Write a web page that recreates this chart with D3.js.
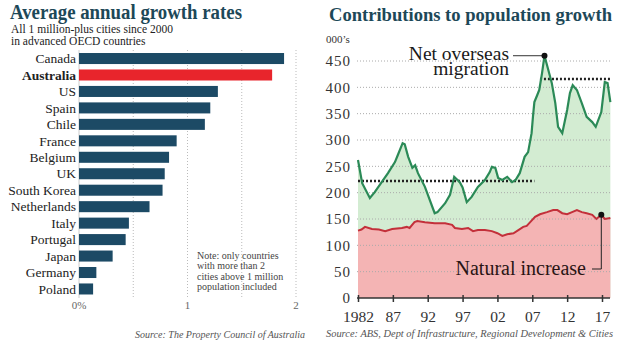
<!DOCTYPE html>
<html>
<head>
<meta charset="utf-8">
<script src="https://cdn.jsdelivr.net/npm/d3@7"></script>
<style>
  html, body { margin: 0; padding: 0; background: #fff; }
  svg { display: block; font-family: 'Liberation Serif', 'DejaVu Serif', serif; }
</style>
</head>
<body>
<svg id="chart"></svg>
<script>
// left chart: average annual growth rates (%)
const countries = ['Canada', 'Australia', 'US', 'Spain', 'Chile', 'France', 'Belgium', 'UK',
  'South Korea', 'Netherlands', 'Italy', 'Portugal', 'Japan', 'Germany', 'Poland'];
const growthRates = [1.89, 1.78, 1.28, 1.21, 1.16, 0.90, 0.83, 0.79, 0.77, 0.65, 0.46, 0.43, 0.31, 0.16, 0.13];
const growthTicks = [0, 1, 2];
const growthGrid = [0.5, 1, 1.5, 2];

// right chart: contributions to population growth (000's)
const nomYears = [1982.0, 1982.6, 1983.7, 1984.4, 1985.4, 1986.3, 1987.3, 1987.7, 1988.4, 1988.7,
  1989.2, 1989.8, 1990.2, 1990.6, 1991.6, 1993.0, 1993.4, 1994.5, 1995.2, 1995.8,
  1996.6, 1997.0, 1997.6, 1998.3, 1999.2, 2000.2, 2000.9, 2001.2, 2001.7, 2002.1,
  2002.7, 2003.4, 2004.1, 2004.6, 2005.2, 2005.9, 2006.4, 2006.9, 2007.1, 2007.3,
  2007.7, 2008.0, 2008.4, 2008.75, 2009.3, 2009.8, 2010.3, 2010.7, 2011.3, 2012.0,
  2012.4, 2012.8, 2013.4, 2014.1, 2014.8, 2015.6, 2016.1, 2016.9, 2017.4, 2017.8, 2018.2];
const nomValues = [262, 218, 190, 201, 220, 237, 258, 271, 294, 292,
  268, 247, 252, 237, 211, 161, 163, 180, 196, 230,
  220, 210, 182, 192, 211, 224, 239, 249, 247, 228,
  224, 230, 220, 224, 237, 268, 277, 313, 345, 372,
  385, 395, 427, 460, 433, 408, 370, 325, 313, 357,
  389, 404, 395, 370, 344, 334, 325, 353, 410, 408, 372];

const natYears = [1982.0, 1982.5, 1983.0, 1984.0, 1985.0, 1985.9, 1986.9, 1988.3, 1989.0, 1989.4,
  1990.1, 1990.5, 1991.6, 1993.0, 1994.5, 1995.5, 1995.9, 1996.9, 1997.8, 1998.5,
  1999.2, 2000.2, 2001.2, 2002.0, 2002.7, 2003.4, 2004.3, 2005.0, 2005.7, 2006.2,
  2006.7, 2007.4, 2008.1, 2009.1, 2010.0, 2010.6, 2011.3, 2012.0, 2012.7, 2013.4,
  2014.1, 2014.8, 2015.6, 2016.2, 2016.9, 2017.4, 2018.2];
const natValues = [128, 130, 135, 131, 130, 127, 131, 133, 135, 133,
  144, 146, 144, 142, 142, 139, 133, 131, 133, 127,
  129, 129, 127, 123, 118, 121, 123, 129, 135, 137,
  144, 154, 159, 163, 167, 167, 161, 159, 163, 167,
  163, 161, 158, 150, 158, 150, 152];

const yearTicks = [1982, 1987, 1992, 1997, 2002, 2007, 2012, 2017];
const valueTicks = [0, 50, 100, 150, 200, 250, 300, 350, 400, 450];
// dotted average lines: [start year, end year, level]
const oldAverage = [1982, 2007.3, 222];
const newAverage = [2008.1, 2018.2, 416];

const width = 624;
const height = 351;
const navy = '#1c4a65';
const titleColor = '#1d4858';

const svg = d3.select('#chart')
  .attr('width', width)
  .attr('height', height);

/* ---------- left: bar chart ---------- */
const left = svg.append('g');

left.append('text')
  .attr('x', 10)
  .attr('y', 19)
  .attr('font-size', 20)
  .attr('font-weight', 'bold')
  .attr('fill', titleColor)
  .attr('textLength', 232)
  .attr('lengthAdjust', 'spacingAndGlyphs')
  .text('Average annual growth rates');

left.selectAll('.sub')
  .data(['All 1 million-plus cities since 2000', 'in advanced OECD countries'])
  .enter()
  .append('text')
  .attr('class', 'sub')
  .attr('x', 11)
  .attr('y', (d, i) => 33 + i * 12)
  .attr('font-size', 11.5)
  .attr('fill', '#222')
  .text(d => d);

const x = d3.scaleLinear()
  .domain([0, 2])
  .range([79, 296]);

const y = d3.scaleBand()
  .domain(countries)
  .range([50.3, 297.2])
  .paddingInner(0.33)
  .paddingOuter(0.165);

left.selectAll('.grid')
  .data(growthGrid)
  .enter()
  .append('line')
  .attr('class', 'grid')
  .attr('x1', d => x(d))
  .attr('x2', d => x(d))
  .attr('y1', 50)
  .attr('y2', 298)
  .attr('stroke', '#bbb')
  .attr('stroke-width', 1)
  .attr('stroke-dasharray', '1,2');

left.append('line')
  .attr('x1', x(0))
  .attr('x2', x(0))
  .attr('y1', 50)
  .attr('y2', 298)
  .attr('stroke', '#ccc');

left.selectAll('.bar')
  .data(countries)
  .enter()
  .append('rect')
  .attr('class', 'bar')
  .attr('x', x(0))
  .attr('y', d => y(d))
  .attr('width', (d, i) => x(growthRates[i]) - x(0))
  .attr('height', y.bandwidth())
  .attr('fill', d => (d === 'Australia' ? '#e8252c' : navy));

left.selectAll('.cat')
  .data(countries)
  .enter()
  .append('text')
  .attr('class', 'cat')
  .attr('x', 76)
  .attr('y', d => y(d) + y.bandwidth() / 2)
  .attr('dy', '0.35em')
  .attr('text-anchor', 'end')
  .attr('font-size', 13.5)
  .attr('font-weight', d => (d === 'Australia' ? 'bold' : 'normal'))
  .attr('fill', '#222')
  .text(d => d);

left.selectAll('.tick-label')
  .data(growthTicks)
  .enter()
  .append('text')
  .attr('class', 'tick-label')
  .attr('x', d => x(d))
  .attr('y', 309)
  .attr('text-anchor', 'middle')
  .attr('font-size', 11)
  .attr('fill', '#666')
  .text(d => (d === 0 ? '0%' : d));

left.selectAll('.note')
  .data(['Note: only countries', 'with more than 2', 'cities above 1 million', 'population included'])
  .enter()
  .append('text')
  .attr('class', 'note')
  .attr('x', 197)
  .attr('y', (d, i) => 259 + i * 10.3)
  .attr('font-size', 10)
  .attr('fill', '#444')
  .text(d => d);

left.append('text')
  .attr('x', 305)
  .attr('y', 338)
  .attr('text-anchor', 'end')
  .attr('font-size', 10)
  .attr('font-style', 'italic')
  .attr('fill', '#555')
  .text('Source: The Property Council of Australia');

/* ---------- right: area chart ---------- */
const right = svg.append('g');

right.append('text')
  .attr('x', 329)
  .attr('y', 21)
  .attr('font-size', 18.5)
  .attr('font-weight', 'bold')
  .attr('fill', titleColor)
  .attr('textLength', 283)
  .attr('lengthAdjust', 'spacingAndGlyphs')
  .text('Contributions to population growth');

right.append('text')
  .attr('x', 326)
  .attr('y', 43)
  .attr('font-size', 11)
  .attr('fill', '#333')
  .text('000\u2019s');

const xt = d3.scaleLinear()
  .domain([1982, 2017])
  .range([358, 602]);

const yv = d3.scaleLinear()
  .domain([0, 450])
  .range([298, 61]);

const nom = nomYears.map((yr, i) => ({ yr, v: nomValues[i] }));
const nat = natYears.map((yr, i) => ({ yr, v: natValues[i] }));

const area = d3.area()
  .x(d => xt(d.yr))
  .y0(yv(0))
  .y1(d => yv(d.v));

const line = d3.line()
  .x(d => xt(d.yr))
  .y(d => yv(d.v));

right.append('path')
  .datum(nom)
  .attr('d', area)
  .attr('fill', '#d3ecd2');

right.append('path')
  .datum(nat)
  .attr('d', area)
  .attr('fill', '#f4b4b4');

right.selectAll('.hgrid')
  .data(valueTicks.filter(d => d > 0))
  .enter()
  .append('line')
  .attr('class', 'hgrid')
  .attr('x1', 357)
  .attr('x2', 610)
  .attr('y1', d => yv(d))
  .attr('y2', d => yv(d))
  .attr('stroke', '#aaa')
  .attr('stroke-width', 1)
  .attr('stroke-dasharray', '1,2');

const yAxis = right.append('g')
  .attr('transform', 'translate(357,0)')
  .call(d3.axisLeft(yv).tickValues(valueTicks).tickSize(0).tickPadding(6));
yAxis.select('.domain').remove();
yAxis.selectAll('text')
  .attr('font-family', 'Liberation Serif, serif')
  .attr('font-size', 15)
  .attr('letter-spacing', 1)
  .attr('fill', '#333');

const xAxis = right.append('g')
  .attr('transform', `translate(0,${yv(0)})`)
  .call(d3.axisBottom(xt)
    .tickValues(yearTicks)
    .tickSize(4)
    .tickPadding(9)
    .tickFormat(d => (d === 1982 ? '1982' : String(d).slice(2))));
xAxis.select('.domain')
  .attr('d', 'M357,0H610')
  .attr('stroke', '#333')
  .attr('stroke-width', 1.5);
xAxis.selectAll('.tick line')
  .attr('y1', -3)
  .attr('stroke', '#333')
  .attr('stroke-width', 1.5);
xAxis.selectAll('text')
  .attr('font-family', 'Liberation Serif, serif')
  .attr('font-size', 15.5)
  .attr('fill', '#333');

right.selectAll('.avg')
  .data([oldAverage, newAverage])
  .enter()
  .append('line')
  .attr('class', 'avg')
  .attr('x1', d => xt(d[0]))
  .attr('x2', d => xt(d[1]))
  .attr('y1', d => yv(d[2]))
  .attr('y2', d => yv(d[2]))
  .attr('stroke', '#222')
  .attr('stroke-width', 2.5)
  .attr('stroke-dasharray', '2,2');

right.append('path')
  .datum(nat)
  .attr('d', line)
  .attr('fill', 'none')
  .attr('stroke', '#c3303a')
  .attr('stroke-width', 2);

right.append('path')
  .datum(nom)
  .attr('d', line)
  .attr('fill', 'none')
  .attr('stroke', '#2b8a57')
  .attr('stroke-width', 2.2);

// annotations
const nomPeak = nom[d3.maxIndex(nom, d => d.v)];
const natMark = nat[44];

right.append('line')
  .attr('x1', 513)
  .attr('x2', xt(nomPeak.yr))
  .attr('y1', yv(nomPeak.v))
  .attr('y2', yv(nomPeak.v))
  .attr('stroke', '#333');

right.append('circle')
  .attr('cx', xt(nomPeak.yr))
  .attr('cy', yv(nomPeak.v))
  .attr('r', 3)
  .attr('fill', '#111');

right.selectAll('.nom-label')
  .data(['Net overseas', 'migration'])
  .enter()
  .append('text')
  .attr('class', 'nom-label')
  .attr('x', 509)
  .attr('y', (d, i) => 60 + i * 15)
  .attr('text-anchor', 'end')
  .attr('font-size', 19.5)
  .attr('fill', '#1a1a1a')
  .text(d => d);

right.append('path')
  .attr('d', `M${xt(natMark.yr)},${yv(natMark.v)}V269H592`)
  .attr('fill', 'none')
  .attr('stroke', '#222');

right.append('circle')
  .attr('cx', xt(natMark.yr))
  .attr('cy', yv(natMark.v))
  .attr('r', 3)
  .attr('fill', '#111');

right.append('text')
  .attr('x', 586)
  .attr('y', 275)
  .attr('text-anchor', 'end')
  .attr('font-size', 20)
  .attr('fill', '#2a1414')
  .text('Natural increase');

right.append('text')
  .attr('x', 326)
  .attr('y', 337)
  .attr('font-size', 10)
  .attr('font-style', 'italic')
  .attr('fill', '#555')
  .attr('textLength', 287)
  .attr('lengthAdjust', 'spacingAndGlyphs')
  .text('Source: ABS, Dept of Infrastructure, Regional Development & Cities');
</script>
</body>
</html>
